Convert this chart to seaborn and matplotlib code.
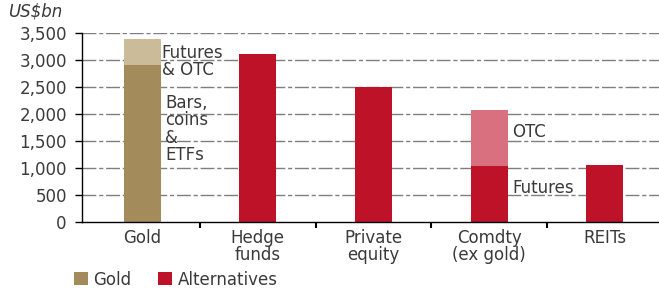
import pandas as pd
import numpy as np
import matplotlib.pyplot as plt
import seaborn as sns

# === data ===
categories = ["Gold", "Hedge\nfunds", "Private\nequity", "Comdty\n(ex gold)", "REITs"]
groups = ["Gold", "Alternatives", "Alternatives", "Alternatives", "Alternatives"]
base_values = [2900, 3110, 2500, 1040, 1055]     # bars/coins/ETFs, futures, ...
total_values = [3390, 3110, 2500, 2070, 1055]    # incl. futures & OTC / OTC
yticks = [0, 500, 1000, 1500, 2000, 2500, 3000, 3500]

# === colours ===
gold_dark = "#A38B5B"
gold_light = "#CBBB98"
red_dark = "#BE1229"
red_light = "#D8707F"
light_colors = [gold_light, red_dark, red_dark, red_light, red_dark]

df = pd.DataFrame({"category": categories, "group": groups,
                   "base": base_values, "total": total_values})

sns.set_style("white")
plt.rcParams['font.family'] = ['DejaVu Sans']
FS = 12
TXT = "#3a3a3a"

fig = plt.figure(figsize=(6.59, 2.9), dpi=100)
ax = fig.add_axes([0.1245, 0.2345, 0.8755, 0.6515])

# top layer (totals) then base layer on top of it
sns.barplot(data=df, x="category", y="total", hue="category", palette=light_colors,
            width=0.32, legend=False, ax=ax, saturation=1, linewidth=0, edgecolor="none")
sns.barplot(data=df, x="category", y="base", hue="group",
            palette={"Gold": gold_dark, "Alternatives": red_dark},
            width=0.32, dodge=False, ax=ax, saturation=1, linewidth=0, edgecolor="none")

ax.set_ylim(0, 3500)
ax.set_xlim(-0.52, 4.47)
ax.set_yticks(yticks)
ax.set_yticklabels([f"{v:,}" for v in yticks])
ax.set_xlabel("")
ax.set_ylabel("")

for y in yticks[1:]:
    ax.axhline(y, color="#7f7f7f", lw=1, ls=(0, (10, 2, 3, 2)), zorder=0)
ax.set_axisbelow(True)

for s in ["top", "right"]:
    ax.spines[s].set_visible(False)
for s in ["left", "bottom"]:
    ax.spines[s].set_color("black")
    ax.spines[s].set_linewidth(1)

ax.tick_params(axis="y", length=5, width=1, color="black", direction="out",
               labelsize=FS, labelcolor=TXT, left=True, pad=6)
ax.tick_params(axis="x", length=0, labelsize=FS, labelcolor=TXT, pad=5)
ax.set_xticks([0.5, 1.5, 2.5, 3.5], minor=True)
ax.tick_params(axis="x", which="minor", length=4, width=1.5, color="black",
               direction="out", bottom=True)
for lab in ax.get_xticklabels():
    lab.set_linespacing(0.95)

# annotations
txt = dict(fontsize=FS, color=TXT, va="top", ha="left", linespacing=0.95)
ax.text(0.17, 3300, "Futures\n& OTC", **txt)
ax.text(0.2, 2370, "Bars,\ncoins\n&\nETFs", **txt)
ax.text(3.2, 1830, "OTC", **txt)
ax.text(3.2, 800, "Futures", **txt)

fig.text(0.012, 0.99, "US$bn", fontsize=FS, style="italic", color=TXT,
         va="top", ha="left")

leg = ax.legend(loc="center left", bbox_to_anchor=(-0.025, -0.305), ncol=2, frameon=False,
                fontsize=FS, handlelength=0.8, handleheight=0.8, handletextpad=0.35,
                columnspacing=1.6, borderaxespad=0)
for t in leg.get_texts():
    t.set_color(TXT)

fig.savefig("out.png", dpi=100)
